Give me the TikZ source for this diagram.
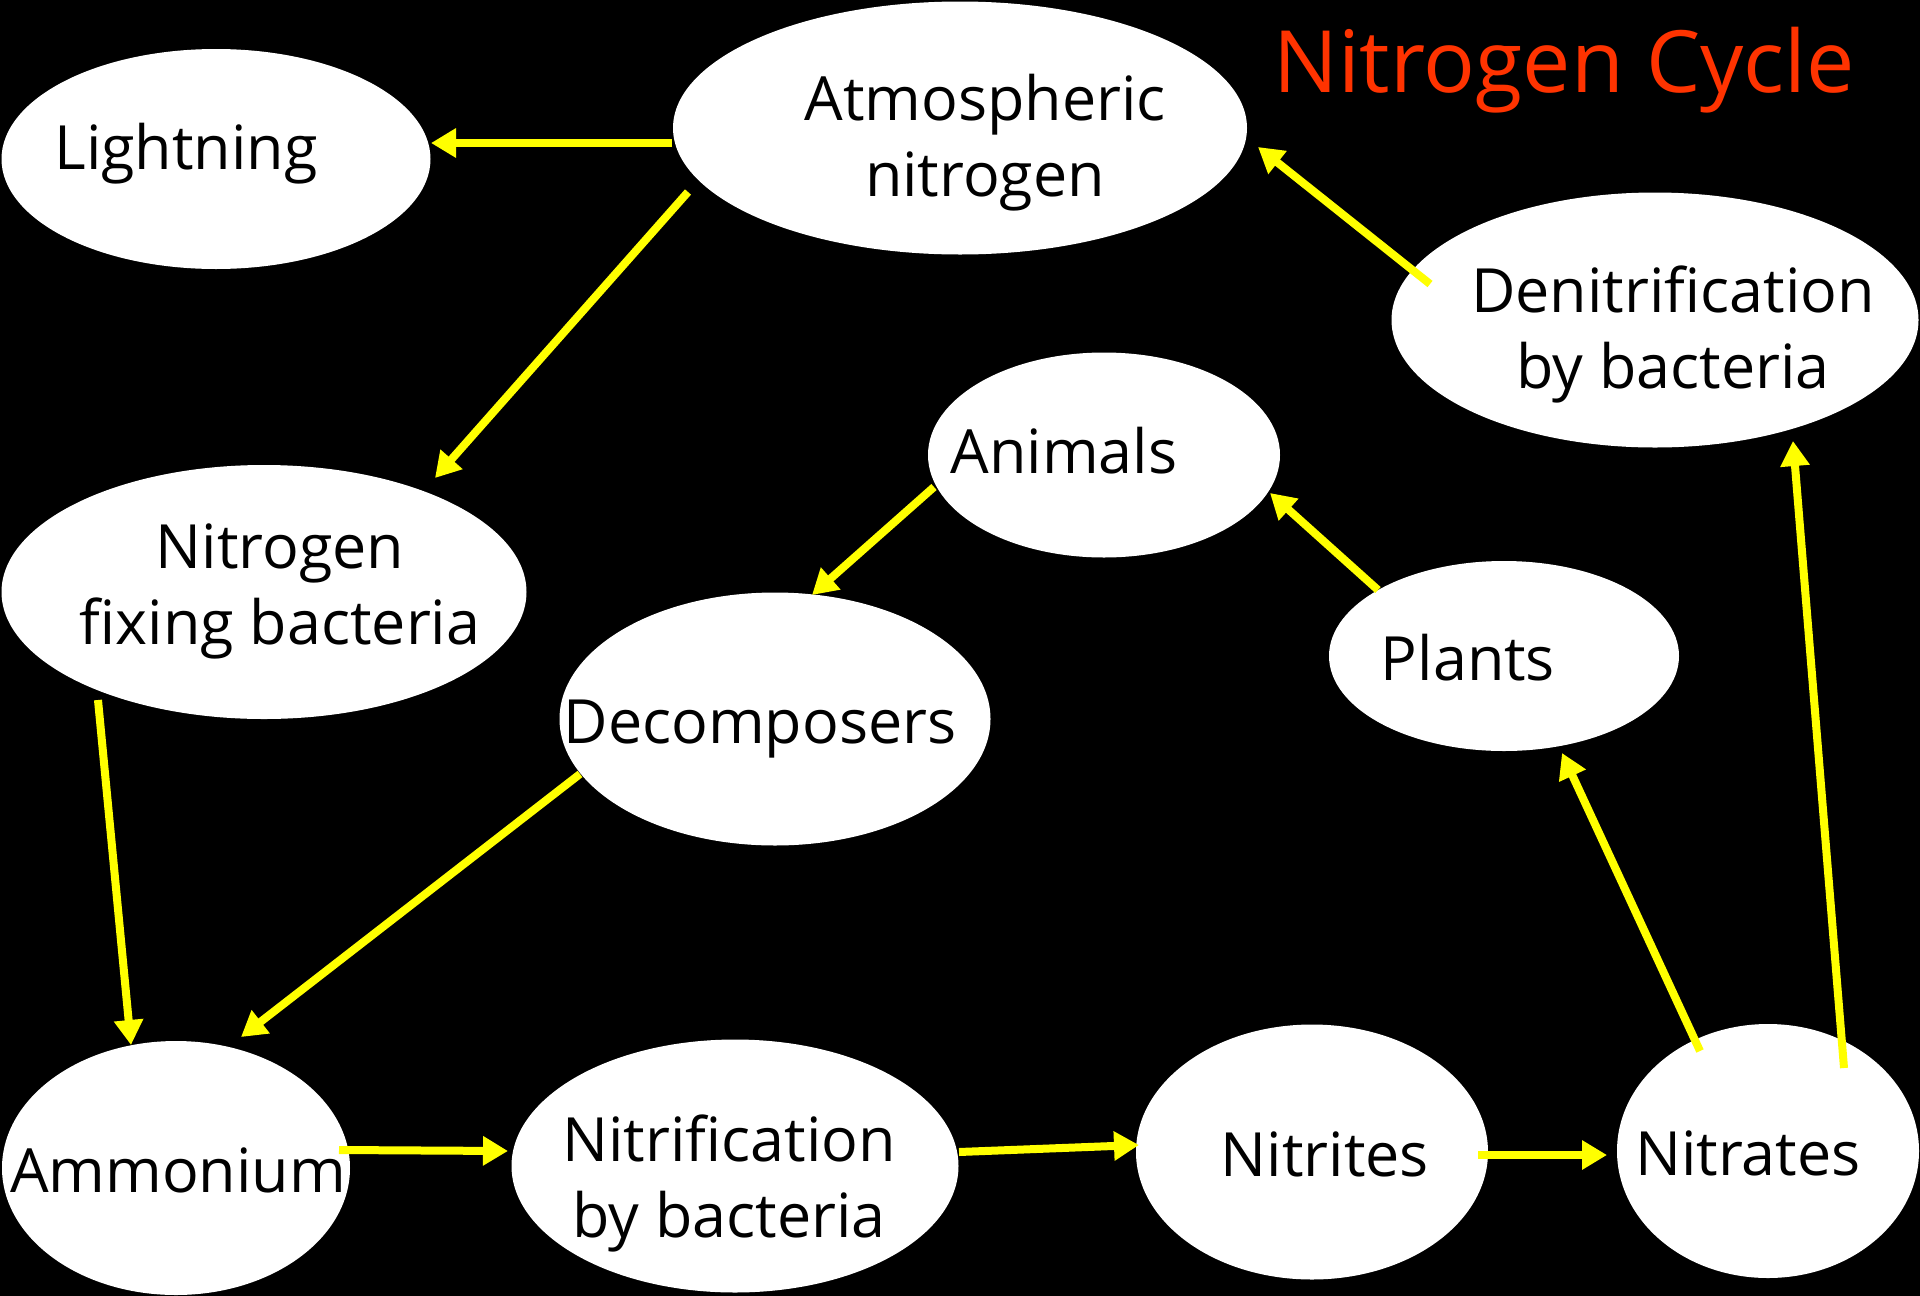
\documentclass[tikz,border=0pt]{standalone}
\usepackage{fontspec}
\setmainfont{Open Sans}
\usetikzlibrary{shapes.geometric,arrows.meta,calc}
\definecolor{titlered}{RGB}{255,51,0}
\definecolor{arrowyellow}{RGB}{255,255,0}
\begin{document}
\begin{tikzpicture}[x=1pt,y=-1pt,
  blob/.style={ellipse, fill=white, draw=none, inner sep=0pt},
  lbl/.style={text=black, font=\fontsize{61}{76}\selectfont, align=center, inner sep=0pt, anchor=base},
  flow/.style={draw=arrowyellow, line width=8pt, -{Triangle[length=25pt,width=28pt]}}]
\fill[black] (0,0) rectangle (1920,1296);
\useasboundingbox (0,0) rectangle (1920,1296);

% ellipses
\node[blob, minimum width=429pt, minimum height=220pt] (light)    at (216,159)  {};
\node[blob, minimum width=574pt, minimum height=253pt] (atm)      at (960,128)  {};
\node[blob, minimum width=527pt, minimum height=255pt] (denit)    at (1655,320) {};
\node[blob, minimum width=352pt, minimum height=205pt] (animals)  at (1104,455) {};
\node[blob, minimum width=525pt, minimum height=254pt] (nfix)     at (264,592)  {};
\node[blob, minimum width=431pt, minimum height=253pt] (decomp)   at (775,719)  {};
\node[blob, minimum width=350pt, minimum height=190pt] (plants)   at (1504,656) {};
\node[blob, minimum width=348pt, minimum height=254pt] (ammon)    at (176,1168) {};
\node[blob, minimum width=447pt, minimum height=253pt] (nitrif)   at (735,1166) {};
\node[blob, minimum width=352pt, minimum height=255pt] (nitrites) at (1312,1152) {};
\node[blob, minimum width=302pt, minimum height=254pt] (nitrates) at (1768,1151) {};

% texts (anchor base = baseline of last line)
\node[lbl] (lightT)    at (186,169)  {Lightning};
\node[lbl] (atmT)      at (985,196)  {Atmospheric\\nitrogen};
\node[lbl] (denitT)    at (1673,388) {Denitrification\\by bacteria};
\node[lbl] (animalsT)  at (1064,473) {Animals};
\node[lbl] (nfixT)     at (280,644)  {Nitrogen\\fixing bacteria};
\node[lbl] (decompT)   at (760,743)  {Decomposers};
\node[lbl] (plantsT)   at (1468,680) {Plants};
\node[lbl] (ammonT)    at (178,1192) {Ammonium};
\node[lbl] (nitrifT)   at (729,1237) {Nitrification\\by bacteria};
\node[lbl] (nitritesT) at (1325,1176) {Nitrites};
\node[lbl] (nitratesT) at (1748,1175) {Nitrates};
\node[text=titlered, font=\fontsize{86}{100}\selectfont, inner sep=0pt, anchor=base] (title) at (1564,92) {Nitrogen Cycle};

% arrows
\draw[flow] ($(atm.center)+(-288,15)$) -- ($(light.center)+(215,-16)$);
\draw[flow] ($(atm.center)+(-272,64)$) -- ($(nfix.center)+(171,-114)$);
\draw[flow] ($(denit.center)+(-225,-36)$) -- ($(atm.center)+(298,19)$);
\draw[flow] ($(animals.center)+(-170,32)$) -- ($(decomp.center)+(37,-124)$);
\draw[flow] ($(plants.center)+(-126,-66)$) -- ($(animals.center)+(166,38)$);
\draw[flow] ($(nfix.center)+(-166,108)$) -- ($(ammon.center)+(-45,-123)$);
\draw[flow] ($(decomp.center)+(-195,55)$) -- ($(ammon.center)+(65,-131)$);
\draw[flow] ($(ammon.center)+(163,-18)$) -- ($(nitrif.center)+(-227,-15)$);
\draw[flow] ($(nitrif.center)+(224,-14)$) -- ($(nitrites.center)+(-173,-7)$);
\draw[flow] ($(nitrites.center)+(166,3)$) -- ($(nitrates.center)+(-161,4)$);
\draw[flow] ($(nitrates.center)+(-68,-100)$) -- ($(plants.center)+(58,97)$);
\draw[flow] ($(nitrates.center)+(76,-83)$) -- ($(denit.center)+(138,121)$);
\end{tikzpicture}
\end{document}
